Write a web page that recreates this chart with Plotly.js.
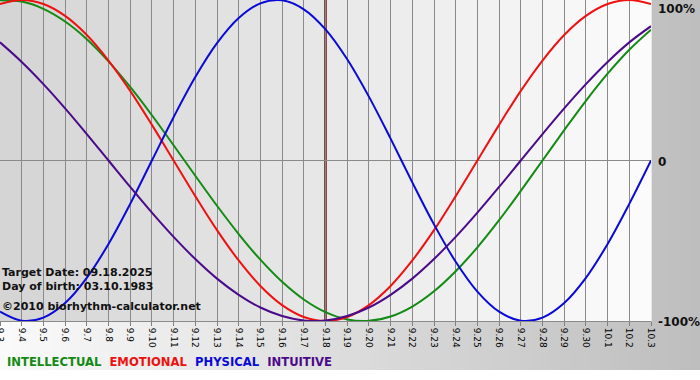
<!DOCTYPE html>
<html><head><meta charset="utf-8">
<script src="https://cdn.plot.ly/plotly-3.0.1.min.js"></script>
<style>html,body{margin:0;padding:0;background:#fff}#chart{width:700px;height:380px}</style>
</head><body><div id="chart"></div>
<script>
// ---- data ----
const dates = ['9.3','9.4','9.5','9.6','9.7','9.8','9.9','9.10','9.11','9.12','9.13','9.14','9.15','9.16','9.17','9.18','9.19','9.20','9.21','9.22','9.23','9.24','9.25','9.26','9.27','9.28','9.29','9.30','10.1','10.2','10.3'];
const intellectual = [0.999,0.990,0.945,0.866,0.756,0.618,0.458,0.282,0.095,-0.095,-0.282,-0.458,-0.618,-0.756,-0.866,-0.945,-0.990,-0.999,-0.972,-0.910,-0.815,-0.690,-0.541,-0.372,-0.189,0,0.189,0.372,0.541,0.690,0.815];
const emotional = [0.975,1,0.975,0.901,0.782,0.623,0.434,0.222,0,-0.222,-0.434,-0.623,-0.782,-0.901,-0.975,-1,-0.975,-0.901,-0.782,-0.623,-0.434,-0.222,0,0.222,0.434,0.623,0.782,0.901,0.975,1,0.975];
const physical = [-0.942,-0.998,-0.979,-0.888,-0.731,-0.520,-0.270,0,0.270,0.520,0.731,0.888,0.979,0.998,0.942,0.817,0.631,0.398,0.136,-0.136,-0.398,-0.631,-0.817,-0.942,-0.998,-0.979,-0.888,-0.731,-0.520,-0.270,0];
const intuitive = [0.736,0.614,0.476,0.325,0.165,0,-0.165,-0.325,-0.476,-0.614,-0.736,-0.837,-0.916,-0.969,-0.997,-0.997,-0.969,-0.916,-0.837,-0.736,-0.614,-0.476,-0.325,-0.165,0,0.165,0.325,0.476,0.614,0.736,0.837];
const seriesNames = ['INTELLECTUAL','EMOTIONAL','PHYSICAL','INTUITIVE'];
const targetDate = '9.18';
const infoLines = ['Target Date: 09.18.2025','Day of birth: 03.10.1983','\u00a92010 biorhythm-calculator.net'];
const yTickVals = [1, 0, -1];
const yTickText = ['100%', '0', '-100%'];

// ---- styling ----
const colors = ['#138a13', '#ee1111', '#0a0ad8', '#4b0a8a'];
const W = 700, PLOT_W = 651, PLOT_H = 321, BAND_BOTTOM = 370;
const FONT = 'DejaVu Sans, Verdana, sans-serif';
const px2x = p => p / PLOT_W;
const px2y = p => (PLOT_H - p) / PLOT_H;
const gray = v => { const h = Math.round(v).toString(16).padStart(2, '0'); return '#' + h + h + h; };

const shapes = [];
// paper background gradient (light left -> darker right)
const NS = 70;
for (let i = 0; i < NS; i++) {
  const a = i * W / NS, b = (i + 1) * W / NS + 0.6;
  shapes.push({type:'rect', xref:'paper', yref:'paper', layer:'below',
    x0: px2x(a), x1: px2x(b), y0: px2y(BAND_BOTTOM), y1: px2y(-2),
    fillcolor: gray(250 + (190 - 250) * (i / (NS - 1))), line:{width:0}});
}
// plot-area gradient per day column (darker left -> light right)
const nCols = dates.length - 1;
for (let i = 0; i < nCols; i++) {
  shapes.push({type:'rect', xref:'paper', yref:'paper', layer:'below',
    x0: i / nCols, x1: (i + 1) / nCols + 0.001, y0: 0, y1: 1.01,
    fillcolor: gray(213 + (251 - 213) * (i / (nCols - 1))), line:{width:0}});
}
// target-date marker
const ti = dates.indexOf(targetDate);
shapes.push({type:'line', xref:'x', yref:'paper', layer:'between',
  x0: ti, x1: ti, y0: 0, y1: 1, line:{color:'#641010', width:2.5}});

const series = [intellectual, emotional, physical, intuitive];
const traces = series.map((ys, k) => ({
  type:'scatter', mode:'lines', name: seriesNames[k],
  x: dates, y: ys, line:{color: colors[k], width: 2, shape:'spline', smoothing: 1},
  hoverinfo:'skip'
}));

const annotations = [];
// right-side percent labels
yTickVals.forEach((v, i) => {
  annotations.push({xref:'paper', yref:'y', x:1, y:v, xanchor:'left',
    yanchor: v === 1 ? 'top' : 'middle', yshift: v === 1 ? 0 : -1, xshift: 5,
    text: yTickText[i], showarrow:false,
    font:{family:FONT, size:12, color:'#111', weight:'bold'}});
});
// info text lines
const infoY = [272, 286, 306.5];
infoLines.forEach((t, i) => {
  annotations.push({xref:'paper', yref:'paper', x:0, xshift:0, y:px2y(infoY[i]),
    xanchor:'left', yanchor:'middle', text:t, showarrow:false,
    font:{family:FONT, size:11, color:'#111', weight:'bold'}});
});
// legend as coloured words
const legendText = seriesNames.map((n, k) => '<span style="color:' + colors[k] + '">' + n + '</span>').join('\u00a0\u00a0');
annotations.push({xref:'paper', yref:'paper', x:px2x(5), y:px2y(361.5), xanchor:'left', yanchor:'middle',
  text: legendText, showarrow:false, font:{family:FONT, size:11.6, weight:'bold'}});

const layout = {
  width: 700, height: 380,
  margin: {l:0, r: W - PLOT_W, t:0, b: 380 - PLOT_H, pad:0},
  paper_bgcolor:'#ffffff', plot_bgcolor:'rgba(0,0,0,0)',
  showlegend:false,
  xaxis: {type:'category', categoryorder:'array', categoryarray: dates,
    range:[0, dates.length - 1], tickmode:'array', tickvals: dates, ticktext: dates,
    tickangle: 90, ticks:'outside', ticklen:4, tickcolor:'#808080',
    showgrid:true, gridcolor:'#8a8a8a', gridwidth:1,
    showline:true, linecolor:'#8a8a8a', linewidth:1, zeroline:false,
    tickfont:{family:FONT, size:9, color:'#000'}, fixedrange:true},
  yaxis: {range:[-1, 1], showgrid:false, showticklabels:false, ticks:'',
    zeroline:true, zerolinecolor:'#8a8a8a', zerolinewidth:1, fixedrange:true},
  shapes, annotations
};
Plotly.newPlot('chart', traces, layout, {staticPlot:true, displayModeBar:false});
</script>
</body></html>
